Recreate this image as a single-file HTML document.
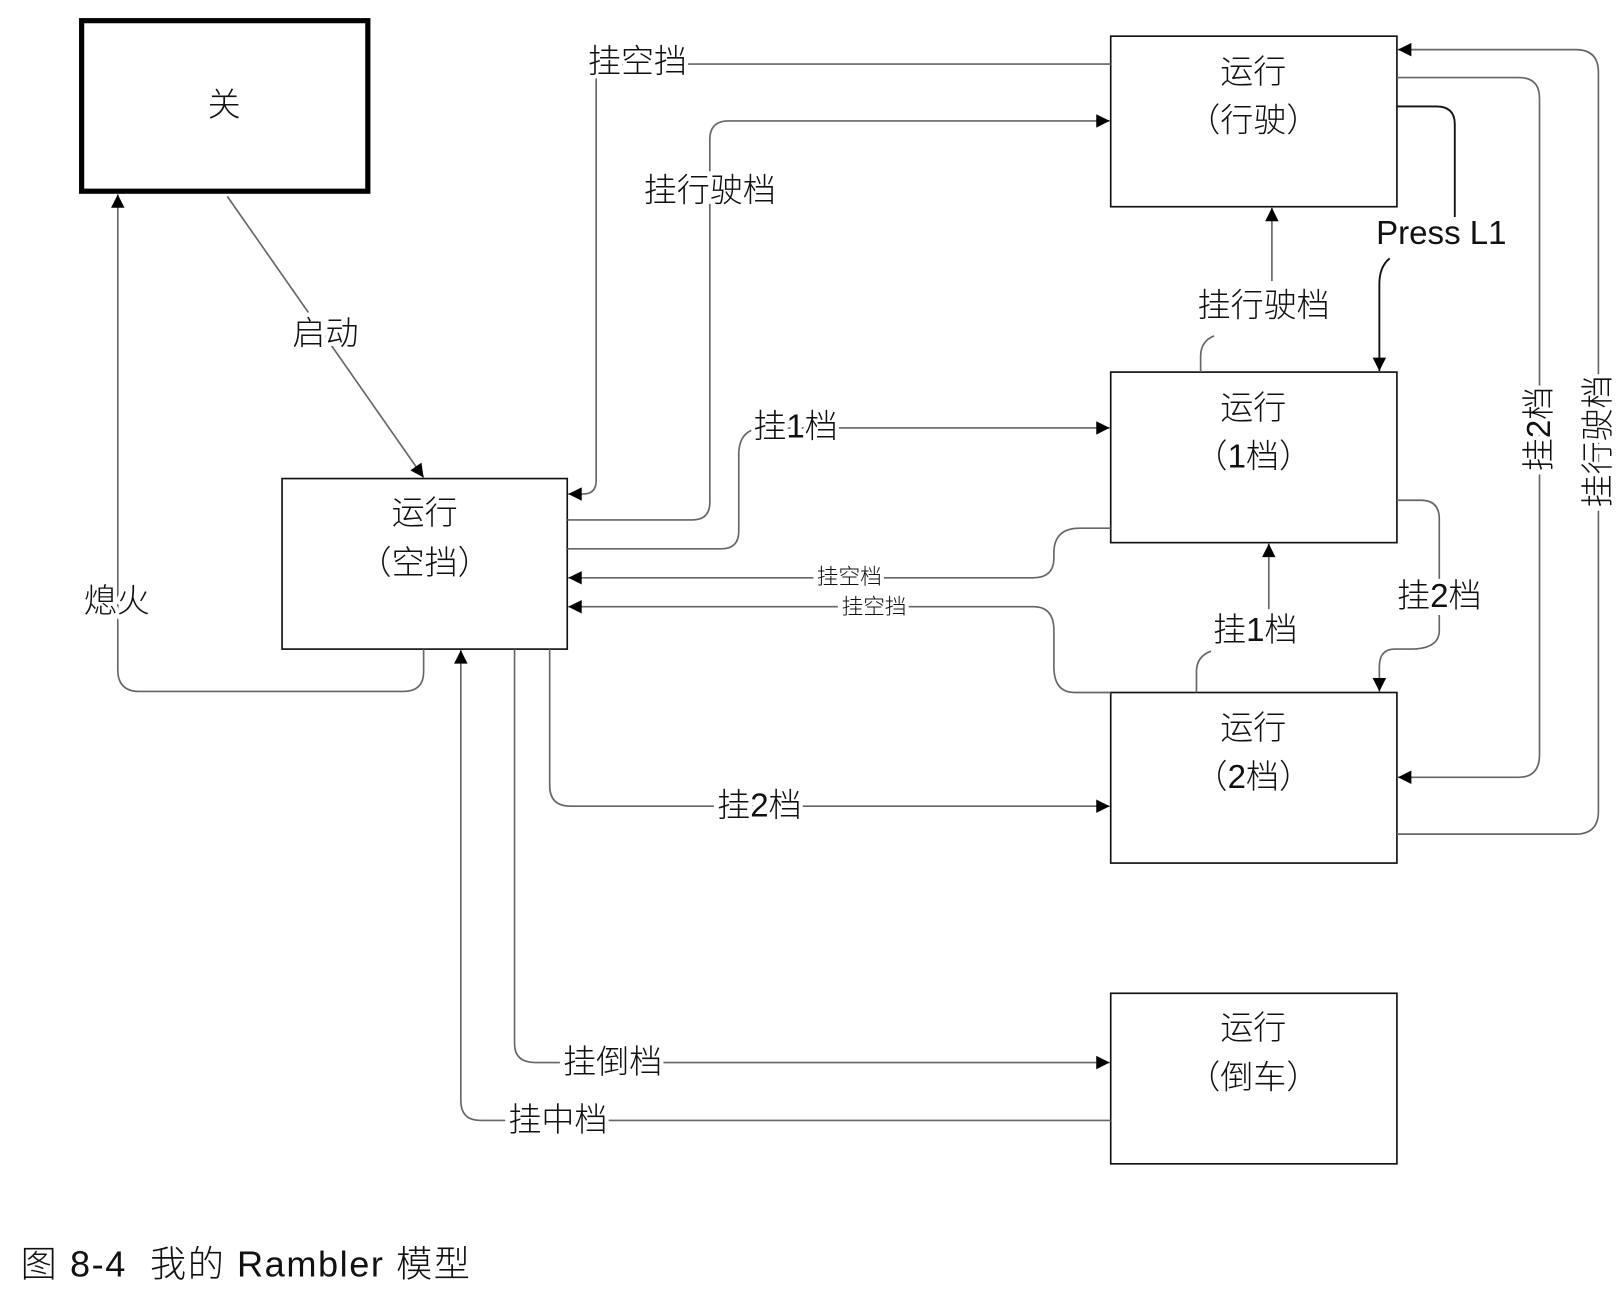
<!DOCTYPE html>
<html><head><meta charset="utf-8"><style>
html,body{margin:0;padding:0;background:#fff;}
svg{display:block;}
text{font-family:"Liberation Sans","Noto Sans CJK SC",sans-serif;fill:#111;}
.l{font-size:32px;text-anchor:middle;dominant-baseline:central;stroke:#fff;stroke-width:8px;paint-order:stroke;font-weight:300;}
.s{font-size:21px;}
.c{stroke:#666;stroke-width:1.6;fill:none;}
.k{stroke:#111;stroke-width:1.8;fill:none;}
.b{fill:#fff;stroke:#111;stroke-width:1.6;}
</style></head><body>
<svg width="1617" height="1292" viewBox="0 0 1565 1250" preserveAspectRatio="none">
<defs><marker id="a" viewBox="0 0 10 10" refX="10" refY="5" markerWidth="17" markerHeight="13" markerUnits="userSpaceOnUse" orient="auto"><path d="M0,0L10,5L0,10z" fill="#000"/></marker></defs>
<rect x="79" y="20" width="277" height="165" fill="#fff" stroke="#000" stroke-width="5"/>
<text x="217" y="102" class="l" style="stroke:none">关</text>
<rect class="b" x="273" y="463" width="276" height="165"/>
<rect class="b" x="1075" y="35" width="277" height="165"/>
<rect class="b" x="1075" y="360" width="277" height="165"/>
<rect class="b" x="1075" y="670" width="277" height="165"/>
<rect class="b" x="1075" y="961" width="277" height="165"/>
<g class="l" style="stroke:none">
<text x="411" y="497">运行</text><text x="411" y="545">（空挡）</text>
<text x="1213" y="70">运行</text><text x="1213" y="117">（行驶）</text>
<text x="1213" y="395">运行</text><text x="1213" y="442">（1档）</text>
<text x="1213" y="705">运行</text><text x="1213" y="752">（2档）</text>
<text x="1213" y="995">运行</text><text x="1213" y="1043">（倒车）</text>
</g>
<path class="c" marker-end="url(#a)" d="M1075,62H590Q577,62 577,75V465Q577,478 564,478H550"/>
<path class="c" marker-end="url(#a)" d="M549,503H670Q687,503 687,486V135Q687,117 705,117H1074"/>
<path class="c" marker-end="url(#a)" d="M549,531H698Q715,531 715,514V440Q715,414 740,414H1074"/>
<path class="c" marker-end="url(#a)" d="M1075,511H1045Q1020,511 1020,535V540Q1020,559 1000,559H550"/>
<path class="c" marker-end="url(#a)" d="M1075,670H1040Q1020,670 1020,645V610Q1020,587 1000,587H550"/>
<path class="c" marker-end="url(#a)" d="M532,628V760Q532,780 552,780H1074"/>
<path class="c" marker-end="url(#a)" d="M498,628V1010Q498,1028 518,1028H1074"/>
<path class="c" marker-end="url(#a)" d="M1075,1084H465Q446,1084 446,1065V629"/>
<path class="c" marker-end="url(#a)" d="M410,628V650Q410,669 390,669H135Q114,669 114,648V188"/>
<path class="c" marker-end="url(#a)" d="M220,190L410,462"/>
<path class="c" d="M1162,360V345Q1162,330 1175,325"/>
<path class="c" marker-end="url(#a)" d="M1231,272V201"/>
<path class="k" d="M1352,103H1390Q1408,103 1408,120V210"/>
<path class="k" marker-end="url(#a)" d="M1345,250Q1335,258 1335,275V359"/>
<path class="c" d="M1158,670V650Q1158,635 1172,630"/>
<path class="c" marker-end="url(#a)" d="M1228,595V526"/>
<path class="c" d="M1352,484H1375Q1393,484 1393,502V560"/>
<path class="c" marker-end="url(#a)" d="M1393,595V610Q1393,628 1365,628H1350Q1335,628 1335,645V669"/>
<path class="c" marker-end="url(#a)" d="M1352,75H1470Q1490,75 1490,95V730Q1490,752 1470,752H1353"/>
<path class="c" marker-end="url(#a)" d="M1352,807H1525Q1547,807 1547,785V70Q1547,48 1525,48H1353"/>
<text class="l" x="617" y="60">挂空挡</text>
<text class="l" x="687" y="185">挂行驶档</text>
<text class="l" x="770" y="413">挂1档</text>
<text class="l s" x="822" y="558">挂空档</text>
<text class="l s" x="846" y="587">挂空挡</text>
<text class="l" x="735" y="780">挂2档</text>
<text class="l" x="593" y="1028">挂倒档</text>
<text class="l" x="540" y="1084">挂中档</text>
<text class="l" x="113" y="582">熄火</text>
<text class="l" x="315" y="323">启动</text>
<text class="l" x="1223" y="296">挂行驶档</text>
<text class="l" x="1395" y="226" style="font-family:'Liberation Sans',sans-serif;font-weight:400">Press L1</text>
<text class="l" x="1215" y="610">挂1档</text>
<text class="l" x="1393" y="577">挂2档</text>
<text class="l" x="1490" y="415" transform="rotate(-90 1490 415)">挂2档</text>
<text class="l" x="1547" y="427" transform="rotate(-90 1547 427)">挂行驶档</text>
<text x="20" y="1235" style="font-size:35px;font-weight:300;letter-spacing:1.5px;white-space:pre" xml:space="preserve">图 8-4  我的 Rambler 模型</text>
</svg>
</body></html>
